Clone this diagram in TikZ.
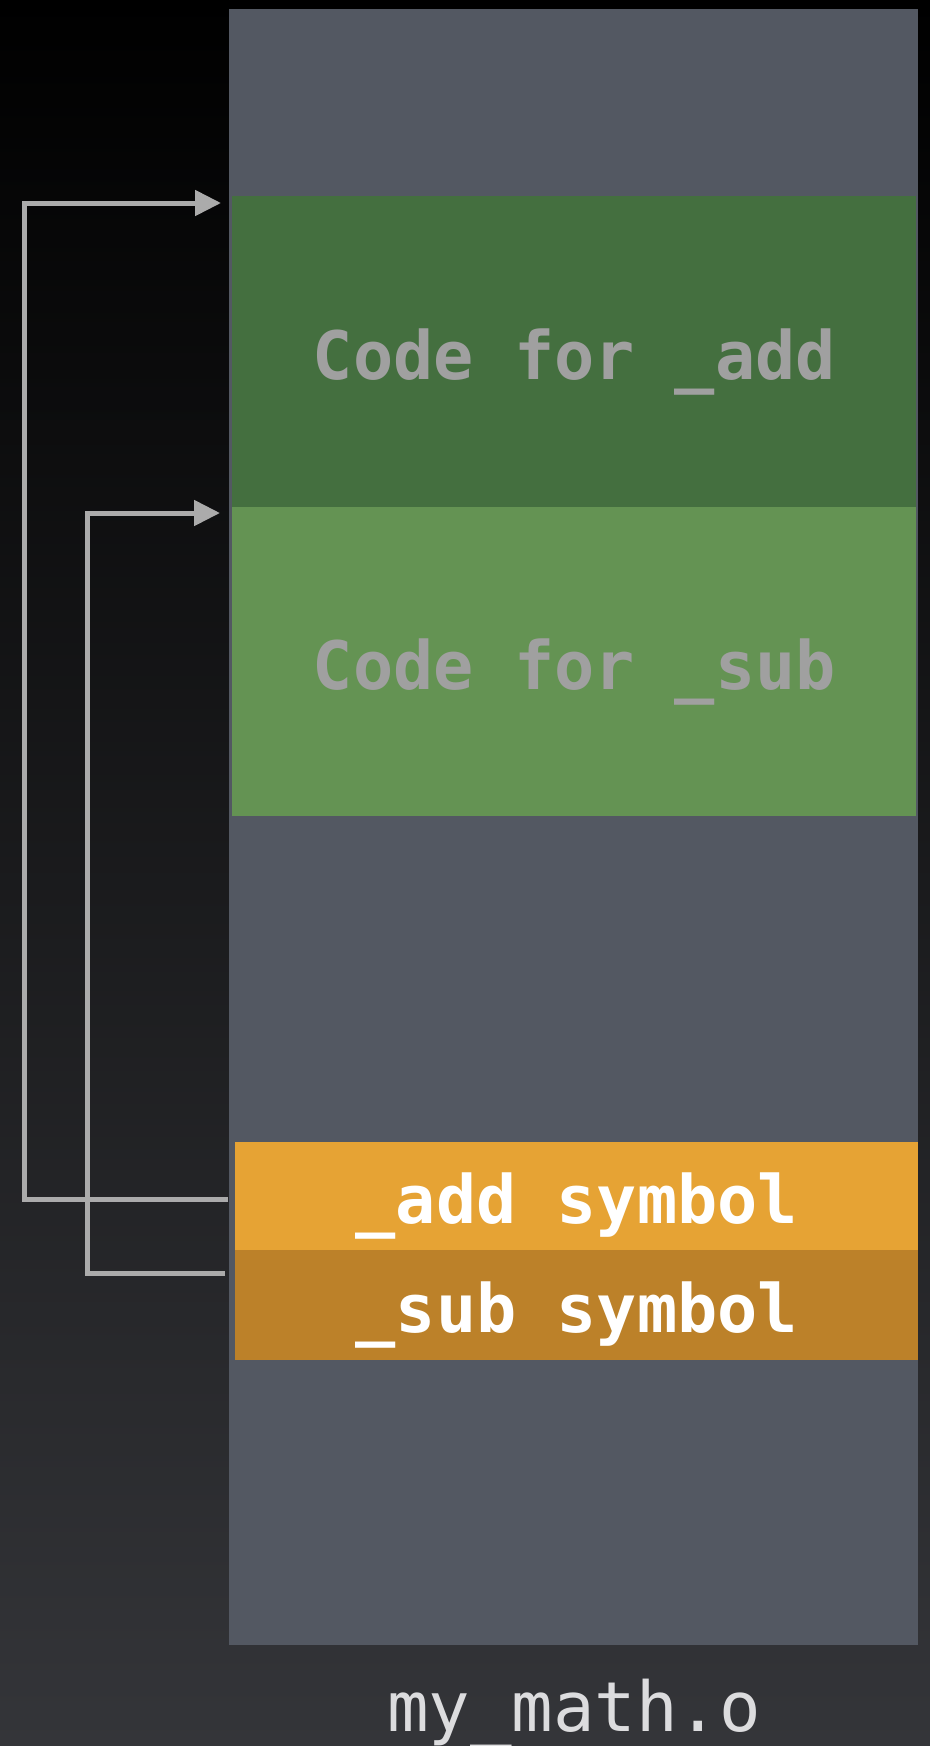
\documentclass[tikz,border=0pt]{standalone}
\usepackage{fontspec}
\newfontfamily\mono{DejaVu Sans Mono}
\usetikzlibrary{arrows.meta}
\definecolor{bgtop}{HTML}{000000}
\definecolor{bgbot}{HTML}{343539}
\definecolor{panelc}{HTML}{535862}
\definecolor{gdark}{HTML}{446F3F}
\definecolor{glight}{HTML}{649353}
\definecolor{oa}{HTML}{E6A334}
\definecolor{ob}{HTML}{BC8129}
\definecolor{codetxt}{HTML}{A0A0A0}
\definecolor{connc}{HTML}{ABABAB}
\definecolor{lblc}{HTML}{DCDCDE}
\begin{document}
\begin{tikzpicture}[x=0.5pt,y=-0.5pt,
  blk/.style={rectangle, inner sep=0pt, anchor=north west},
  boxtext/.style={font=\mono\bfseries\fontsize{33.4}{36}\selectfont, text height=28.5pt, text depth=1pt},
  codetext/.style={boxtext, text=codetxt},
  symtext/.style={boxtext, text=white},
  link/.style={draw=connc, line width=2.5pt, line join=miter, -{Triangle[length=13pt,width=12.5pt]}}]
\useasboundingbox (0,0) rectangle (930,1746);
\shade[top color=bgtop, bottom color=bgbot] (0,0) rectangle (930,1746);
\node[blk, fill=panelc, minimum width=344.5pt, minimum height=818pt] (panel) at (229,9) {};
\node[blk, fill=gdark, minimum width=342pt, minimum height=155.5pt, codetext] (codeadd) at (232,196) {Code for \_add};
\node[blk, fill=glight, minimum width=342pt, minimum height=154.5pt, codetext] (codesub) at (232,507) {Code for \_sub};
\node[blk, fill=oa, minimum width=341.5pt, minimum height=54pt, symtext] (addsym) at (235,1142) {\_add symbol};
\node[blk, fill=ob, minimum width=341.5pt, minimum height=55pt, symtext] (subsym) at (235,1250) {\_sub symbol};
\node[anchor=base, font=\mono\fontsize{34.5}{40}\selectfont, text=lblc] (lbl) at (574,1731) {my\_math.o};
\draw[link] ([shift={(-7,3)}]addsym.west) -- ++(-204,0) |- ([shift={(-11,7)}]codeadd.north west);
\draw[link] ([shift={(-10,-32)}]subsym.west) -- ++(-138,0) |- ([shift={(-12,6)}]codesub.north west);
\end{tikzpicture}
\end{document}
